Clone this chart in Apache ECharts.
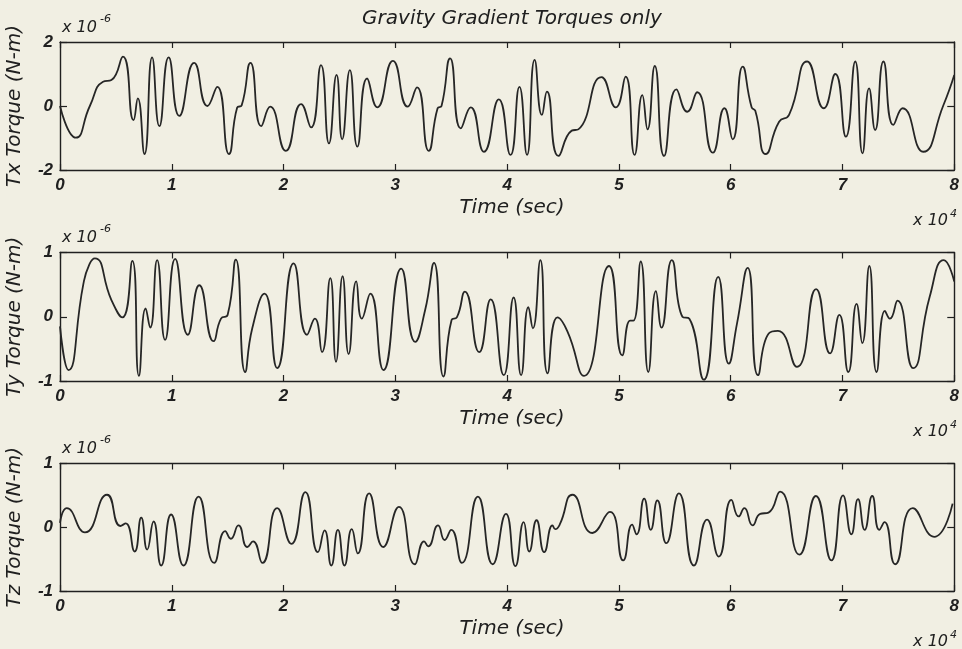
<!DOCTYPE html>
<html><head><meta charset="utf-8">
<script src="https://cdn.jsdelivr.net/npm/echarts@6/dist/echarts.min.js"></script>
<style>html,body{margin:0;padding:0;background:#f1efe3}#c{width:962px;height:649px}</style>
</head><body><div id="c"></div>
<script>
// Time in units of 10^4 s, torque in units of 10^-6 N-m
const xTickLabels = ['0','1','2','3','4','5','6','7','8'];

const txTime = [0.0,0.142,0.267,0.385,0.46,0.563,0.658,0.696,0.756,0.824,0.889,0.972,1.067,1.2,1.319,1.407,1.511,1.585,1.625,1.704,1.8,1.88,2.02,2.157,2.246,2.335,2.406,2.474,2.524,2.593,2.66,2.747,2.838,2.978,3.111,3.194,3.298,3.378,3.413,3.49,3.585,3.674,3.793,3.926,4.03,4.11,4.178,4.246,4.311,4.356,4.459,4.578,4.637,4.844,4.972,5.06,5.14,5.209,5.256,5.321,5.404,5.514,5.612,5.7,5.84,5.944,6.018,6.107,6.187,6.22,6.314,6.433,6.522,6.684,6.833,6.936,7.031,7.114,7.179,7.238,7.292,7.366,7.455,7.538,7.722,7.9,8.0];
const txVal  = [0.0,-0.99,0.0,0.76,0.81,1.54,-0.44,0.24,-1.5,1.52,-0.63,1.52,-0.31,1.35,0.0,0.6,-1.5,-0.05,0.02,1.35,-0.63,-0.02,-1.4,0.06,-0.67,1.28,-1.17,0.97,-1.04,1.12,-1.27,0.86,-0.04,1.41,-0.02,0.58,-1.4,-0.07,0.0,1.49,-0.7,-0.04,-1.43,0.21,-1.53,0.6,-1.53,1.44,-0.28,0.45,-1.56,-0.77,-0.73,0.9,-0.04,0.92,-1.53,0.34,-0.73,1.25,-1.56,0.52,-0.18,0.43,-1.46,-0.07,-1.04,1.23,-0.04,-0.15,-1.5,-0.49,-0.28,1.39,-0.07,1.0,-0.96,1.39,-1.48,0.55,-0.75,1.39,-0.59,-0.07,-1.43,0.0,0.97];

const tyTime = [0.0,0.076,0.21,0.267,0.312,0.46,0.558,0.647,0.706,0.766,0.807,0.869,0.94,1.03,1.143,1.246,1.374,1.44,1.5,1.573,1.656,1.72,1.83,1.943,2.09,2.21,2.28,2.344,2.418,2.469,2.528,2.582,2.65,2.7,2.776,2.894,3.052,3.177,3.266,3.346,3.43,3.503,3.55,3.622,3.75,3.853,3.97,4.058,4.125,4.19,4.23,4.297,4.362,4.451,4.54,4.688,4.911,5.03,5.1,5.13,5.195,5.263,5.331,5.381,5.473,5.568,5.63,5.76,5.888,5.983,6.057,6.152,6.244,6.34,6.423,6.592,6.764,6.889,6.972,7.052,7.126,7.177,7.24,7.305,7.38,7.424,7.492,7.632,7.78,7.907,8.0];
const tyVal  = [-0.15,-0.83,0.52,0.83,0.91,0.26,-0.01,0.87,-0.92,0.13,-0.17,0.88,-0.36,0.9,-0.28,0.49,-0.38,-0.03,0.03,0.89,-0.86,-0.18,0.36,-0.8,0.83,-0.28,-0.03,-0.55,0.6,-0.7,0.63,-0.58,0.55,-0.03,0.36,-0.83,0.75,-0.39,0.1,0.84,-0.93,-0.05,-0.01,0.39,-0.55,0.27,-0.91,0.3,-0.91,0.15,-0.18,0.88,-0.88,-0.01,-0.23,-0.92,0.79,-0.6,-0.06,-0.06,0.86,-0.86,0.4,-0.17,0.88,0.0,-0.03,-0.98,0.62,-0.73,-0.1,0.76,-0.91,-0.26,-0.22,-0.78,0.43,-0.57,0.03,-0.86,0.2,-0.41,0.79,-0.86,0.09,-0.03,0.25,-0.8,0.31,0.88,0.55];

const tzTime = [0.0,0.06,0.223,0.421,0.54,0.588,0.668,0.727,0.78,0.837,0.905,0.994,1.104,1.24,1.38,1.478,1.528,1.596,1.676,1.727,1.81,1.943,2.07,2.195,2.307,2.367,2.427,2.486,2.545,2.61,2.664,2.765,2.892,3.032,3.174,3.257,3.293,3.382,3.441,3.5,3.595,3.738,3.871,3.99,4.074,4.148,4.198,4.263,4.332,4.406,4.43,4.47,4.584,4.762,4.92,5.038,5.118,5.158,5.226,5.285,5.344,5.424,5.537,5.671,5.789,5.893,6.006,6.071,6.122,6.196,6.264,6.338,6.442,6.614,6.762,6.901,7.005,7.079,7.139,7.198,7.266,7.329,7.376,7.471,7.629,7.82,7.985];
const tzVal  = [0.07,0.3,-0.08,0.51,0.02,0.06,-0.38,0.15,-0.35,0.09,-0.6,0.2,-0.6,0.48,-0.56,-0.06,-0.18,0.03,-0.31,-0.22,-0.56,0.3,-0.26,0.55,-0.39,-0.05,-0.6,-0.04,-0.6,-0.03,-0.41,0.53,-0.31,0.32,-0.58,-0.22,-0.3,0.03,-0.2,-0.04,-0.56,0.48,-0.58,0.21,-0.61,0.08,-0.38,0.11,-0.39,0.03,-0.03,0.04,0.51,-0.09,0.24,-0.52,0.04,-0.11,0.45,-0.04,0.42,-0.25,0.53,-0.6,0.12,-0.46,0.43,0.17,0.3,0.03,0.21,0.23,0.56,-0.43,0.49,-0.52,0.5,-0.11,0.44,-0.04,0.49,-0.04,0.08,-0.58,0.3,-0.15,0.37];

const yLabels = ['Tx Torque (N-m)','Ty Torque (N-m)','Tz Torque (N-m)'];
const yRanges = [[-2,2,2],[-1,1,1],[-1,1,1]];
const titleText = 'Gravity Gradient Torques only';
const xName = 'Time (sec)';

const layout = [
  {top:42, height:128},
  {top:252.5, height:128.5},
  {top:463.5, height:127.5}
];
const LEFT = 60, WIDTH = 898;
const series = [[txTime,txVal],[tyTime,tyVal],[tzTime,tzVal]];

const ink = '#202020';
const wordFont = 'italic 20px "DejaVu Sans"';
const digitFamily = '"Liberation Sans", Arial, sans-serif';

const grid = [], xAxis = [], yAxis = [], ser = [], graphic = [];
layout.forEach((L, i) => {
  grid.push({left: LEFT, top: L.top, width: WIDTH, height: L.height});
  const axisLine = {show: true, onZero: false, lineStyle: {color: ink, width: 1.4}};
  const tick = {show: true, inside: true, length: 6, lineStyle: {color: ink, width: 1.2}};
  const lab = {color: ink, fontFamily: digitFamily, fontStyle: 'italic', fontWeight: 'bold', fontSize: 17};
  xAxis.push({gridIndex: i, type: 'value', min: 0, max: 8, interval: 1, position: 'bottom',
    axisLine, axisTick: tick, splitLine: {show: false},
    axisLabel: Object.assign({margin: 7, formatter: v => xTickLabels[Math.round(v)]}, lab)});
  xAxis.push({gridIndex: i, type: 'value', min: 0, max: 8, interval: 1, position: 'top',
    axisLine, axisTick: tick, splitLine: {show: false}, axisLabel: {show: false}});
  const r = yRanges[i];
  yAxis.push({gridIndex: i, type: 'value', min: r[0], max: r[1], interval: r[2], position: 'left',
    axisLine, axisTick: Object.assign({}, tick, {length: 7}), splitLine: {show: false},
    axisLabel: Object.assign({margin: 7}, lab)});
  yAxis.push({gridIndex: i, type: 'value', min: r[0], max: r[1], interval: r[2], position: 'right',
    axisLine, axisTick: Object.assign({}, tick, {length: 7}), splitLine: {show: false}, axisLabel: {show: false}});
  const [t, v] = series[i];
  ser.push({type: 'line', xAxisIndex: 2*i, yAxisIndex: 2*i, data: t.map((x, k) => [x, v[k]]),
    showSymbol: false, smooth: 0.55, lineStyle: {color: '#262626', width: 1.8}, silent: true});

  const bottom = L.top + L.height;
  const mid = L.top + L.height / 2;
  graphic.push({type: 'text', x: 15, y: mid, rotation: Math.PI/2,
    style: {text: yLabels[i], font: wordFont, fill: ink, align: 'center', verticalAlign: 'middle'}});
  graphic.push({type: 'text', x: 62, y: L.top - 14.5,
    style: {text: 'x 10', font: 'italic 16px "DejaVu Sans"', fill: ink, align: 'left', verticalAlign: 'middle'}});
  graphic.push({type: 'text', x: 100, y: L.top - 23,
    style: {text: '-6', font: 'italic 11px "DejaVu Sans"', fill: ink, align: 'left', verticalAlign: 'middle'}});
  graphic.push({type: 'text', x: 512, y: bottom + 38,
    style: {text: xName, font: wordFont, fill: ink, align: 'center', verticalAlign: 'middle'}});
  graphic.push({type: 'text', x: 948, y: bottom + 51,
    style: {text: 'x 10', font: 'italic 16px "DejaVu Sans"', fill: ink, align: 'right', verticalAlign: 'middle'}});
  graphic.push({type: 'text', x: 950, y: bottom + 44,
    style: {text: '4', font: 'italic 11px "DejaVu Sans"', fill: ink, align: 'left', verticalAlign: 'middle'}});
});
graphic.push({type: 'text', x: 512, y: 19,
  style: {text: titleText, font: wordFont, fill: ink, align: 'center', verticalAlign: 'middle'}});

const chart = echarts.init(document.getElementById('c'));
chart.setOption({
  backgroundColor: '#f1efe3',
  animation: false,
  grid, xAxis, yAxis, series: ser, graphic
});
</script>
</body></html>
